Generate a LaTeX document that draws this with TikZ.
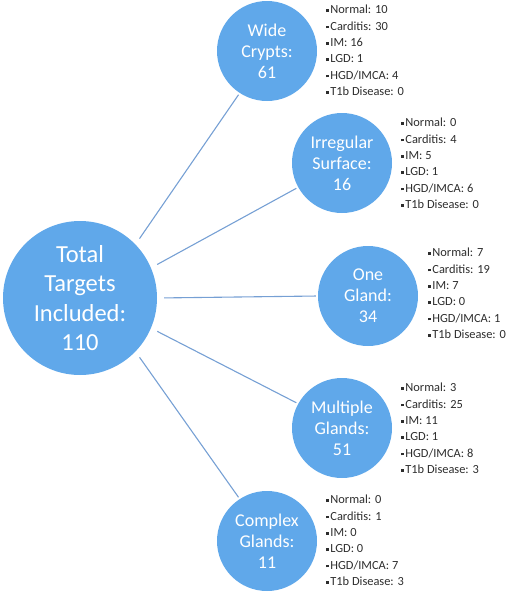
\documentclass[tikz,border=0pt]{standalone}
\usepackage{fontspec}
\setmainfont{Carlito}

\definecolor{bubble}{RGB}{96,168,234}
\definecolor{spokeblue}{RGB}{118,160,212}
\definecolor{factgray}{RGB}{45,45,45}

% small square bullet and one list of findings
\newcommand{\sqb}{\rule[0.28ex]{2.8pt}{2.8pt}\hspace{1.4pt}}
\newcommand{\findings}[6]{\sqb Normal: #1\\\sqb Carditis: #2\\\sqb IM: #3\\\sqb LGD: #4\\\sqb HGD/IMCA: #5\\\sqb T1b Disease: #6}

\tikzset{
    hub/.style={circle, fill=bubble, text=white, minimum size=154pt, inner sep=0pt,
        align=center, font=\fontsize{24.5}{29.5}\selectfont},
    leaf/.style={circle, fill=bubble, text=white, minimum size=100pt, inner sep=0pt,
        align=center, font=\fontsize{18}{21}\selectfont},
    spoke/.style={draw=spokeblue, line width=1.1pt, shorten <=7pt, shorten >=2pt},
    facts/.style={anchor=north west, inner sep=0pt, align=left, text=factgray,
        font=\fontsize{12.4}{16.3}\selectfont},
}

\begin{document}
\begin{tikzpicture}[x=1pt, y=-1pt]
    \useasboundingbox (0,0) rectangle (510,592);

    % Centre
    \node[hub] (total) at (80,298) {Total\\Targets\\Included:\\110};

    % Categories
    \node[leaf] (wide) at (267,51) {Wide\\Crypts:\\61};
    \node[leaf] (irregular) at (342,163) {Irregular\\Surface:\\16};
    \node[leaf] (onegland) at (368,296) {One\\Gland:\\34};
    \node[leaf] (multiple) at (342,428) {Multiple\\Glands:\\51};
    \node[leaf] (complex) at (267,541) {Complex\\Glands:\\11};

    % Spokes
    \draw[spoke] (total.44) -- (wide.237);
    \draw[spoke] (total.23) -- (irregular.209);
    \draw[spoke] (total.0) -- (onegland.180);
    \draw[spoke] (total.-23) -- (multiple.151);
    \draw[spoke] (total.-44) -- (complex.123);

    % Findings per category
    \node[facts] (wide-facts) at (326,5) {\findings{10}{30}{16}{1}{4}{0}};
    \node[facts] (irregular-facts) at (401,118) {\findings{0}{4}{5}{1}{6}{0}};
    \node[facts] (onegland-facts) at (428,248) {\findings{7}{19}{7}{0}{1}{0}};
    \node[facts] (multiple-facts) at (401,383) {\findings{3}{25}{11}{1}{8}{3}};
    \node[facts] (complex-facts) at (326,495) {\findings{0}{1}{0}{0}{7}{3}};
\end{tikzpicture}
\end{document}
